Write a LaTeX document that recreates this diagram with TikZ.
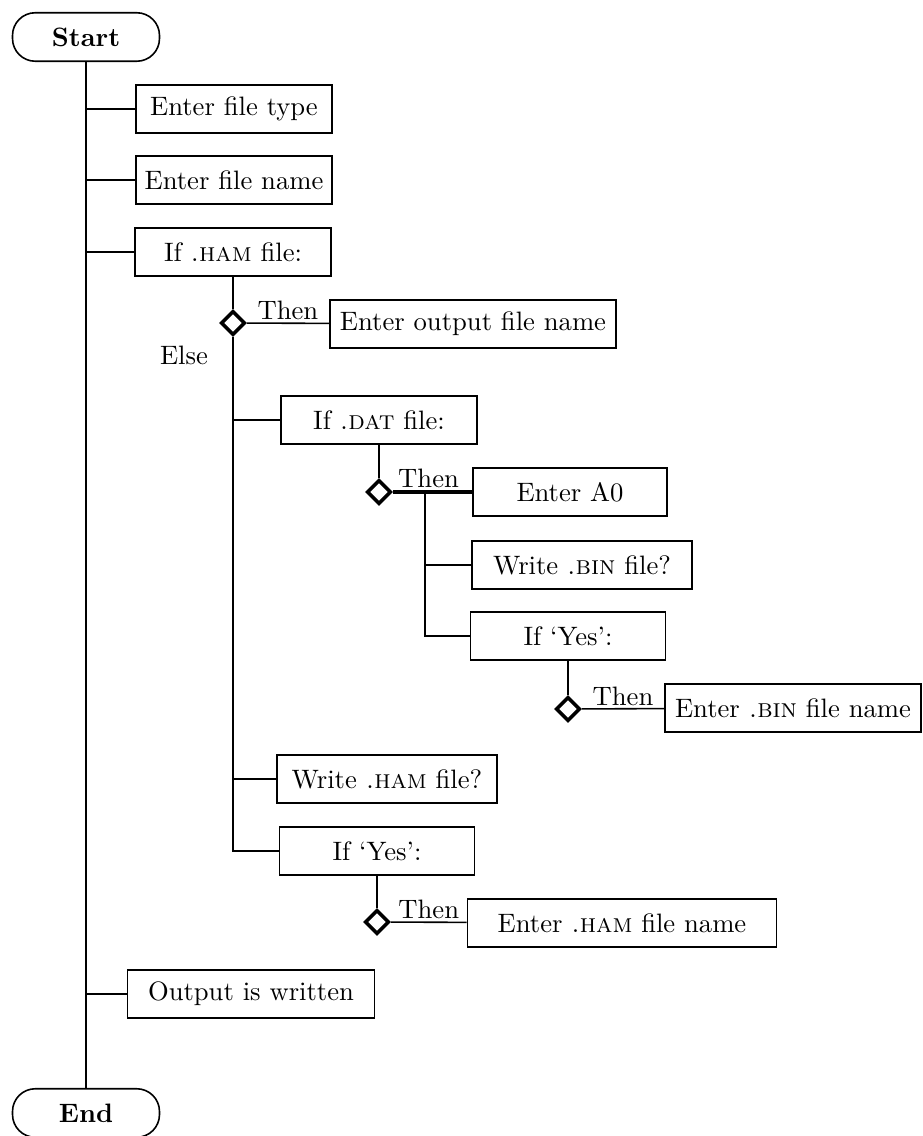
\documentclass[tikz,border=0pt]{standalone}
\usetikzlibrary{shapes.geometric}
\begin{document}
\begin{tikzpicture}[x=0.0132cm, y=-0.0132cm, line width=0.6pt,
  box/.style={draw, minimum height=0.64cm, minimum width=2.59cm, inner sep=2pt},
  term/.style={draw, rounded corners=0.3cm, minimum height=0.64cm, minimum width=1.94cm},
  dec/.style={draw, diamond, line width=1.3pt, inner sep=0pt, minimum size=0.32cm},
  lbl/.style={above, inner sep=1pt}
]
\useasboundingbox (0,0) rectangle (923,1136);
\node[term] (start) at (86,37) {\textbf{Start}};
\node[box] (ftype) at (234,109) {Enter file type};
\node[box] (fname) at (234,180) {Enter file name};
\node[box] (ifham) at (233,252) {If \textsc{.ham} file:};
\node[dec] (d1) at (233,323) {};
\node[box, minimum width=3.78cm] (outname) at (473,324) {Enter output file name};
\node (else) at (184,355) {Else};
\node[box] (ifdat) at (379,420) {If \textsc{.dat} file:};
\node[dec] (d2) at (379,492) {};
\node[box, minimum width=2.56cm] (a0) at (570,492) {Enter A0};
\node[box, minimum width=2.90cm] (wbin) at (582,565) {Write \textsc{.bin} file?};
\node[box, minimum width=2.57cm] (yes1) at (568,636) {If `Yes':};
\node[dec] (d3) at (568,709) {};
\node[box, minimum width=3.38cm] (binname) at (793,708) {Enter \textsc{.bin} file name};
\node[box, minimum width=2.90cm] (wham) at (387,779) {Write \textsc{.ham} file?};
\node[box, minimum width=2.57cm] (yes2) at (377,851) {If `Yes':};
\node[dec] (d4) at (377,922) {};
\node[box, minimum width=4.08cm] (hamname) at (622,923) {Enter \textsc{.ham} file name};
\node[box, minimum width=3.26cm] (out) at (251,994) {Output is written};
\node[term] (end) at (86,1113) {\textbf{End}};
\coordinate (j) at (425,492);
% main line
\draw (start) -- (end);
\draw (start |- ftype) -- (ftype);
\draw (start |- fname) -- (fname);
\draw (start |- ifham) -- (ifham);
\draw (start |- out) -- (out);
% .ham branch
\draw (ifham) -- (d1);
\draw (d1) -- node[lbl]{Then} (outname);
\draw (d1) |- (yes2);
\draw (d1 |- ifdat) -- (ifdat);
\draw (d1 |- wham) -- (wham);
% .dat branch
\draw (ifdat) -- (d2);
\draw[line width=1.3pt] (d2) -- node[lbl, pos=0.45]{Then} (a0);
\draw (j) |- (yes1);
\draw (j |- wbin) -- (wbin);
\draw (yes1) -- (d3);
\draw (d3) -- node[lbl]{Then} (binname);
\draw (yes2) -- (d4);
\draw (d4) -- node[lbl]{Then} (hamname);
\end{tikzpicture}
\end{document}
